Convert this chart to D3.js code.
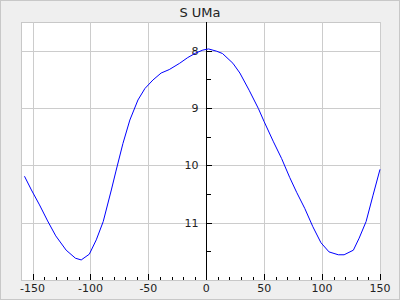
<!DOCTYPE html>
<html lang="en">
<head>
<meta charset="UTF-8">
<title>S UMa</title>
<script src="https://cdn.jsdelivr.net/npm/d3@7"></script>
<style>
    body { margin: 0; background: #efefef; }
    svg { display: block; font-family: "DejaVu Sans", sans-serif; }
    .grid line { stroke: #cccccc; stroke-width: 1px; shape-rendering: crispEdges; }
    .tick-label { font-size: 11px; fill: #222; }
    .curve { fill: none; stroke: #0000ff; stroke-width: 1px; }
</style>
</head>
<body>
<div id="chart"></div>
<script>
// phase (days) vs visual magnitude
const phase = [-157, -151, -144, -137, -130, -121, -113, -108, -101, -95, -89, -82, -78, -72, -66,
    -59, -53, -46, -39, -32, -23, -16, -9, -3, 2, 9, 14, 23, 29, 37, 45, 50, 58, 65, 72, 78,
    85, 92, 99, 106, 114, 119, 127, 132, 138, 144, 150];
const mag = [10.19, 10.43, 10.69, 10.97, 11.23, 11.48, 11.62, 11.65, 11.55, 11.30, 10.98, 10.43, 10.10, 9.62, 9.21,
    8.86, 8.66, 8.51, 8.39, 8.33, 8.22, 8.12, 8.04, 7.99, 7.97, 8.01, 8.05, 8.22, 8.39, 8.69, 9.01, 9.24, 9.59, 9.88, 10.21, 10.47,
    10.75, 11.07, 11.35, 11.51, 11.56, 11.56, 11.48, 11.27, 10.98, 10.52, 10.07];

const xTicks = [-150, -100, -50, 0, 50, 100, 150];
const xMinor = d3.range(-150, 151, 10);
const yTicks = [8, 9, 10, 11];
const yMinor = [8.5, 9.5, 10.5, 11.5];

const width = 400, height = 300;
const margin = { top: 22, right: 20, bottom: 20, left: 21 };

const svg = d3.select("#chart").append("svg")
    .attr("width", width)
    .attr("height", height);

// outer frame
svg.append("rect")
    .attr("x", 0.5).attr("y", 0.5)
    .attr("width", width - 1).attr("height", height - 1)
    .attr("fill", "#efefef").attr("stroke", "#c8c8c8");

const x = d3.scaleLinear().domain([-160, 150]).range([margin.left, width - margin.right]);
const y = d3.scaleLinear().domain([7.5, 12]).range([margin.top, height - margin.bottom]);

// plot area
svg.append("rect")
    .attr("x", margin.left + 0.5).attr("y", margin.top + 0.5)
    .attr("width", width - margin.left - margin.right)
    .attr("height", height - margin.top - margin.bottom)
    .attr("fill", "#fff").attr("stroke", "#c8c8c8");

const grid = svg.append("g").attr("class", "grid");
grid.selectAll(".gx").data(xTicks).enter().append("line")
    .attr("x1", d => Math.round(x(d)) + 0.5).attr("x2", d => Math.round(x(d)) + 0.5)
    .attr("y1", margin.top).attr("y2", height - margin.bottom);
grid.selectAll(".gy").data(yTicks).enter().append("line")
    .attr("y1", d => Math.round(y(d)) + 0.5).attr("y2", d => Math.round(y(d)) + 0.5)
    .attr("x1", margin.left).attr("x2", width - margin.right);

// title
svg.append("text")
    .attr("x", width / 2).attr("y", 17)
    .attr("text-anchor", "middle")
    .style("font-size", "13px").style("fill", "#222")
    .text("S UMa");

// y axis sits on phase 0
const x0 = Math.round(x(0)) + 0.5;
svg.append("line")
    .attr("x1", x0).attr("x2", x0)
    .attr("y1", margin.top).attr("y2", height - margin.bottom)
    .attr("stroke", "#000").attr("shape-rendering", "crispEdges");

svg.selectAll(".ytick").data(yTicks).enter().append("line")
    .attr("x1", x0).attr("x2", x0 + 5)
    .attr("y1", d => Math.round(y(d)) + 0.5).attr("y2", d => Math.round(y(d)) + 0.5)
    .attr("stroke", "#000").attr("shape-rendering", "crispEdges");
svg.selectAll(".yminor").data(yMinor).enter().append("line")
    .attr("x1", x0).attr("x2", x0 + 4)
    .attr("y1", d => Math.round(y(d)) + 0.5).attr("y2", d => Math.round(y(d)) + 0.5)
    .attr("stroke", "#000").attr("shape-rendering", "crispEdges");
svg.selectAll(".ylabel").data(yTicks).enter().append("text")
    .attr("class", "tick-label")
    .attr("x", x0 - 8).attr("y", d => y(d) + 4)
    .attr("text-anchor", "end")
    .text(d => d);

// x axis ticks along the bottom, pointing inward
const yb = height - margin.bottom;
svg.selectAll(".xminor").data(xMinor.filter(d => d % 50 !== 0)).enter().append("line")
    .attr("x1", d => Math.round(x(d)) + 0.5).attr("x2", d => Math.round(x(d)) + 0.5)
    .attr("y1", yb).attr("y2", yb - 3)
    .attr("stroke", "#000").attr("shape-rendering", "crispEdges");
svg.selectAll(".xtick").data(xTicks.filter(d => d !== 0)).enter().append("line")
    .attr("x1", d => Math.round(x(d)) + 0.5).attr("x2", d => Math.round(x(d)) + 0.5)
    .attr("y1", yb).attr("y2", yb - 6)
    .attr("stroke", "#000").attr("shape-rendering", "crispEdges");
svg.selectAll(".xlabel").data(xTicks).enter().append("text")
    .attr("class", "tick-label")
    .attr("x", d => x(d)).attr("y", yb + 12)
    .attr("text-anchor", "middle")
    .text(d => d);

// light curve
const line = d3.line().x(d => x(d[0])).y(d => y(d[1]));
svg.append("path")
    .datum(d3.zip(phase, mag))
    .attr("class", "curve")
    .attr("d", line);
</script>
</body>
</html>
